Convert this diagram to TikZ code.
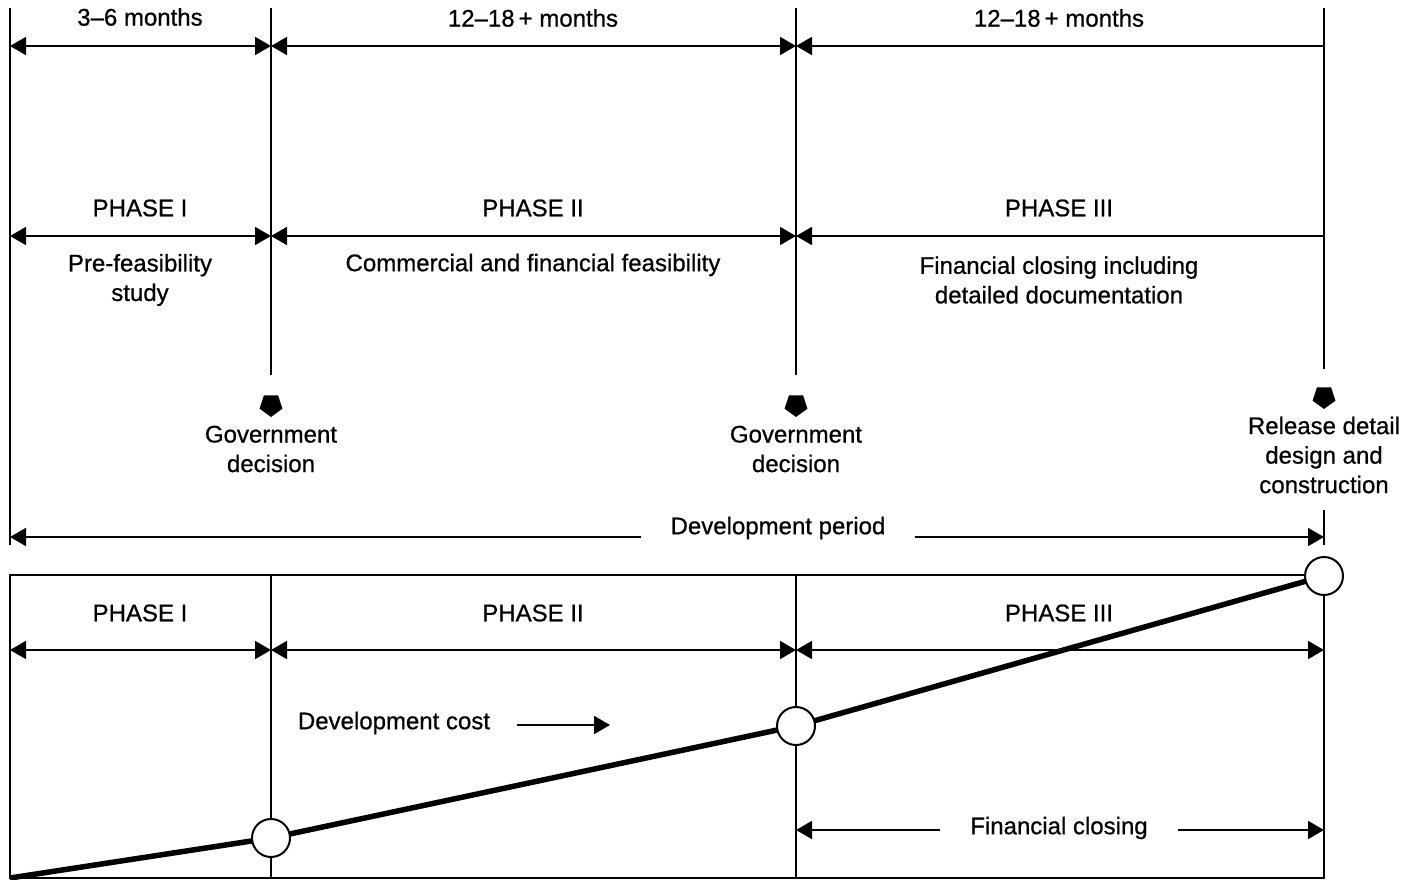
\documentclass[tikz,border=0pt]{standalone}
\usepackage{fontspec}
\setmainfont{Liberation Sans}[BoldFont={Liberation Sans},BoldFeatures={FakeBold=0.7}]
\usetikzlibrary{arrows.meta,shapes.geometric}
\begin{document}
\begin{tikzpicture}[x=1pt,y=-1pt,
  rule/.style={line width=2.2pt},
  dim/.style={line width=1.8pt},
  tipL/.style={{Triangle[length=16pt,width=18pt]}-},
  tipR/.style={-{Triangle[length=16pt,width=18pt]}},
  tipLR/.style={{Triangle[length=16pt,width=18pt]}-{Triangle[length=16pt,width=18pt]}},
  lbl/.style={font=\fontsize{24}{29.5}\selectfont\bfseries, align=center, inner sep=0pt},
  gaplbl/.style={lbl, fill=white, inner xsep=30pt, inner ysep=4pt},
  milestone/.style={regular polygon, regular polygon sides=5, shape border rotate=180,
    fill=black, minimum size=24pt, inner sep=0pt},
  hole/.style={circle, draw, line width=2pt, fill=white, minimum size=38pt, inner sep=0pt},
  cost/.style={line width=5.5pt}]

\useasboundingbox (0,0) rectangle (1410,880);

% column positions and arrow rows
\foreach \c/\x in {0/10,1/271,2/796,3/1324}{
  \coordinate (t\c) at (\x,8);
  \coordinate (a\c) at (\x,46);
  \coordinate (b\c) at (\x,236);
  \coordinate (c\c) at (\x,650);
  \coordinate (k\c) at (\x,878);
  \coordinate (u\c) at (\x,575);
}

% milestones
\node[milestone] (g1) at (271,405) {};
\node[milestone] (g2) at (796,405) {};
\node[milestone] (g3) at (1324,397) {};

% upper vertical rules
\coordinate (dpL) at (10,537);
\coordinate (dpR) at (1324,537);
\coordinate (dpT) at (1324,510);
\draw[rule] (t0) -- ([yshift=-8pt]dpL);
\draw[rule, shorten >=20pt] (t1) -- (g1.north);
\draw[rule, shorten >=20pt] (t2) -- (g2.north);
\draw[rule, shorten >=18pt] (t3) -- (g3.north);
\draw[rule] (dpT) -- ([yshift=-8pt]dpR);

% duration row
\draw[dim, tipLR] (a0) -- (a1);
\draw[dim, tipLR] (a1) -- (a2);
\draw[dim, tipL]  (a2) -- (a3);
\node[lbl] (m1) at (140,17) {3–6 months};
\node[lbl] (m2) at (533,18) {12–18\,+ months};
\node[lbl] (m3) at (1059,18) {12–18\,+ months};

% phase row
\draw[dim, tipLR] (b0) -- (b1);
\draw[dim, tipLR] (b1) -- (b2);
\draw[dim, tipL]  (b2) -- (b3);
\node[lbl] (p1) at (140,208) {PHASE I};
\node[lbl] (p2) at (533,208) {PHASE II};
\node[lbl] (p3) at (1059,208) {PHASE III};

\node[lbl] (d1) at (140,280) {Pre-feasibility\\study};
\node[lbl] (d2) at (533,265) {Commercial and financial feasibility};
\node[lbl] (d3) at (1059,280) {Financial closing including\\detailed documentation};

\node[lbl] (gd1) at (271,449) {Government\\decision};
\node[lbl] (gd2) at (796,449) {Government\\decision};
\node[lbl] (gd3) at (1324,455) {Release detail\\design and\\construction};

% development period
\draw[dim, tipLR] (dpL) -- (dpR);
\node[gaplbl] (dp) at (778,528) {Development period};

% lower frame
\draw[rule] (u0) rectangle (k3);
\draw[rule] (u1) -- (k1);
\draw[rule] (u2) -- (k2);

\draw[dim, tipLR] (c0) -- (c1);
\draw[dim, tipLR] (c1) -- (c2);
\draw[dim, tipLR] (c2) -- (c3);
\node[lbl] (q1) at (140,613) {PHASE I};
\node[lbl] (q2) at (533,613) {PHASE II};
\node[lbl] (q3) at (1059,613) {PHASE III};

% development cost curve
\coordinate (h1) at (271,838);
\coordinate (h2) at (796,726);
\coordinate (h3) at (1324,576);
\draw[cost, line join=round] (k0) -- (h1) -- (h2) -- (h3);
\node[hole] (o1) at (h1) {};
\node[hole] (o2) at (h2) {};
\node[hole] (o3) at (h3) {};

\node[lbl] (dc) at (394,723) {Development cost};
\coordinate (cs0) at (517,725);
\coordinate (cs1) at (610,725);
\draw[dim, tipR] (cs0) -- (cs1);

% financial closing
\coordinate (f0) at (796,830);
\coordinate (f1) at (1324,830);
\draw[dim, tipLR] (f0) -- (f1);
\node[gaplbl] (fc) at (1059,828) {Financial closing};

\end{tikzpicture}
\end{document}
